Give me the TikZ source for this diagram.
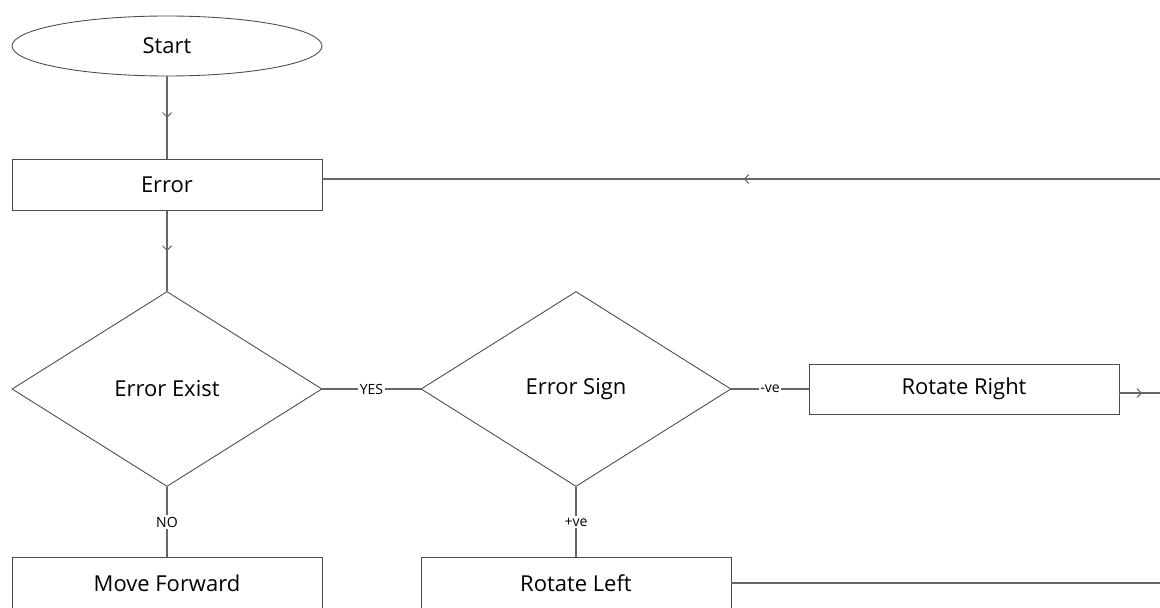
\documentclass[tikz,border=0pt]{standalone}
\usepackage{fontspec}
\setmainfont{Open Sans}
\usetikzlibrary{arrows.meta, positioning, shapes.geometric, decorations.markings}

\begin{document}
\begin{tikzpicture}[
    shapeline/.style={draw=black!70, line width=0.5pt},
    box/.style={shapeline, rectangle, minimum width=6.2cm, minimum height=1.02cm, font=\fontsize{12.5}{14}\selectfont},
    startbox/.style={shapeline, ellipse, minimum width=6.2cm, minimum height=1.2cm, font=\fontsize{12.5}{14}\selectfont},
    decision/.style={shapeline, diamond, aspect=1.59, inner sep=0pt, minimum width=6.2cm, minimum height=3.9cm, font=\fontsize{12.5}{14}\selectfont},
    link/.style={draw=black!60, line width=0.9pt, postaction={decorate},
        decoration={markings, mark=at position 0.5 with {\arrow[black!60, line width=0.6pt]{Straight Barb[length=2.5pt, width=5pt]}}}},
    plainlink/.style={draw=black!60, line width=0.9pt},
    lbl/.style={fill=white, inner sep=1pt, font=\fontsize{8}{9}\selectfont}
]
    \clip (0,0) rectangle (23.2,12.14);

    \node[startbox] (start) at (3.34, 11.22) {Start};
    \node[box] (error) at (3.34, 8.44) {Error};
    \node[decision] (exist) at (3.34, 4.36) {Error Exist};
    \node[decision] (sign) at (11.52, 4.36) {Error Sign};
    \node[box, minimum height=1.0cm] (right) at (19.28, 4.36) {Rotate Right};
    \node[box] (forward) at (3.34, 0.48) {Move Forward};
    \node[box] (left) at (11.52, 0.48) {Rotate Left};

    % loose ends past the right edge
    \coordinate (backin) at (23.3, 8.56);
    \coordinate (rightout) at (23.3, 4.28);
    \coordinate (leftout) at (23.3, 0.48);

    \draw[link] (start) -- (error);
    \draw[link] (error) -- (exist);
    \draw[link] (backin) -- (error.east |- backin);
    \draw[plainlink] (exist) -- node[lbl] {YES} (sign);
    \draw[plainlink] (sign) -- node[lbl] {-ve} (right);
    \draw[link] (right.east |- rightout) -- (rightout);
    \draw[plainlink] (exist) -- node[lbl] {NO} (forward);
    \draw[plainlink] (sign) -- node[lbl] {+ve} (left);
    \draw[plainlink] (left) -- (leftout);
\end{tikzpicture}
\end{document}
